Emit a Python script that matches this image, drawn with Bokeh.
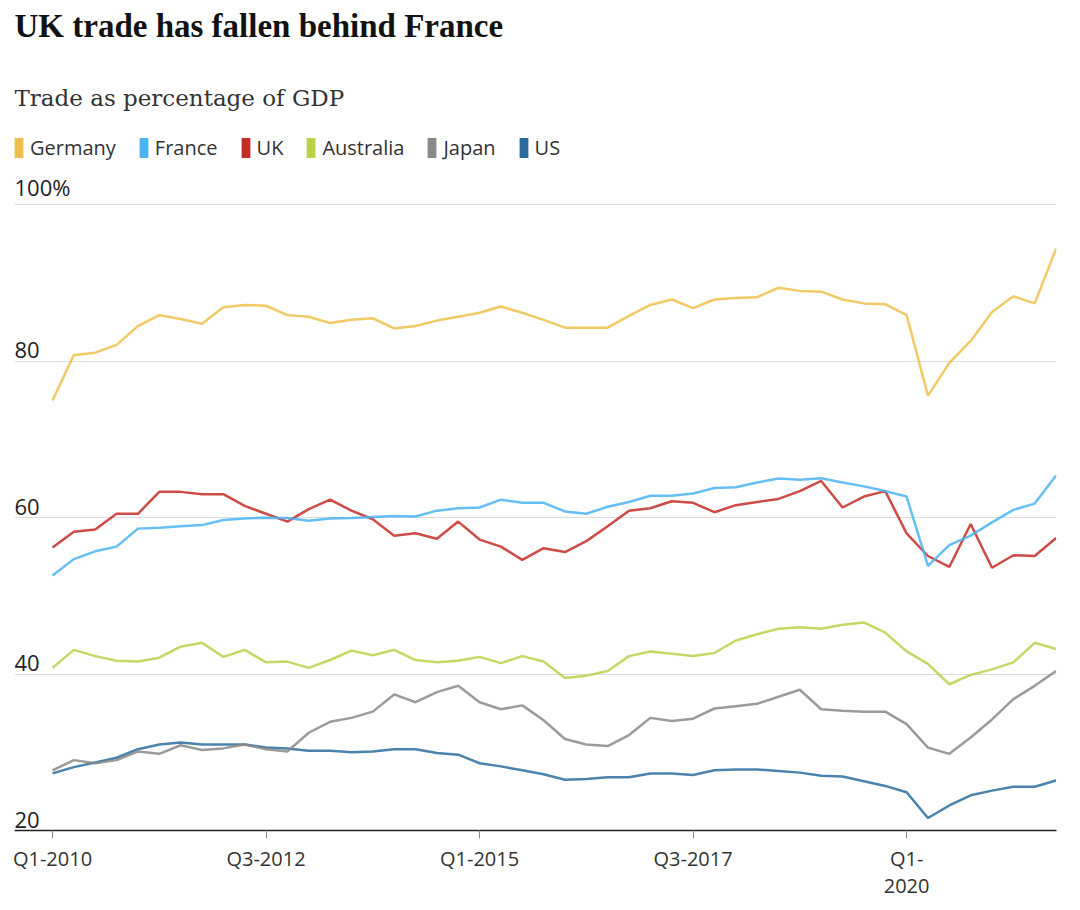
from bokeh.plotting import figure
from bokeh.models import Range1d, FixedTicker, Label, Legend, LegendItem
from bokeh.core.properties import value
from bokeh.embed import file_html
from bokeh.resources import INLINE

# ---------------- data ----------------
years = list(range(2010, 2022))
quarters = [f"Q{q}-{y}" for y in years for q in (1, 2, 3, 4)]

germany = [75.0, 80.8, 81.1, 82.1, 84.5, 85.9, 85.4, 84.8, 86.9, 87.2,
           87.1, 85.9, 85.7, 84.9, 85.3, 85.5, 84.2, 84.5, 85.2, 85.7,
           86.2, 87.0, 86.2, 85.3, 84.3, 84.3, 84.3, 85.8, 87.2, 87.9,
           86.8, 87.9, 88.1, 88.2, 89.4, 89.0, 88.9, 87.9, 87.4, 87.3,
           85.9, 75.6, 79.8, 82.6, 86.3, 88.3, 87.4, 94.4]
france = [52.6, 54.7, 55.7, 56.3, 58.6, 58.7, 58.9, 59.05, 59.7, 59.9,
          60.0, 59.95, 59.6, 59.9, 59.95, 60.1, 60.2, 60.15, 60.9, 61.2,
          61.3, 62.3, 61.9, 61.9, 60.8, 60.5, 61.4, 62.0, 62.8, 62.8,
          63.1, 63.8, 63.9, 64.5, 65.0, 64.85, 65.05, 64.5, 64.0, 63.4,
          62.7, 53.85, 56.5, 57.7, 59.4, 61.0, 61.8, 65.4]
uk = [56.2, 58.2, 58.5, 60.5, 60.5, 63.3, 63.3, 63.0, 63.0, 61.5,
      60.5, 59.5, 61.1, 62.3, 60.9, 59.8, 57.7, 58.0, 57.3, 59.5,
      57.2, 56.3, 54.6, 56.1, 55.6, 57.0, 58.9, 60.9, 61.2, 62.1,
      61.9, 60.7, 61.6, 62.0, 62.4, 63.4, 64.7, 61.3, 62.7, 63.4,
      58.0, 55.1, 53.7, 59.2, 53.6, 55.2, 55.1, 57.4]
australia = [40.8, 43.1, 42.3, 41.7, 41.6, 42.1, 43.5, 44.0, 42.2, 43.1,
             41.5, 41.6, 40.8, 41.8, 43.0, 42.4, 43.1, 41.8, 41.5, 41.7,
             42.2, 41.4, 42.3, 41.6, 39.5, 39.8, 40.4, 42.3, 42.9, 42.6,
             42.3, 42.7, 44.3, 45.1, 45.8, 46.0, 45.8, 46.3, 46.6, 45.3,
             42.9, 41.3, 38.7, 39.9, 40.6, 41.5, 44.0, 43.2]
japan = [27.7, 29.0, 28.6, 29.0, 30.1, 29.8, 30.9, 30.3, 30.5, 31.0,
         30.4, 30.1, 32.5, 33.9, 34.4, 35.2, 37.4, 36.4, 37.7, 38.5,
         36.4, 35.5, 36.0, 34.1, 31.7, 31.0, 30.8, 32.2, 34.4, 34.0,
         34.3, 35.6, 35.9, 36.2, 37.1, 38.0, 35.5, 35.3, 35.2, 35.2,
         33.6, 30.6, 29.8, 31.9, 34.2, 36.8, 38.5, 40.4]
us = [27.3, 28.1, 28.7, 29.3, 30.4, 31.0, 31.25, 31.0, 31.0, 31.0,
      30.6, 30.5, 30.2, 30.2, 30.0, 30.1, 30.4, 30.4, 29.9, 29.7,
      28.6, 28.2, 27.7, 27.2, 26.5, 26.6, 26.8, 26.8, 27.3, 27.3,
      27.1, 27.7, 27.8, 27.8, 27.6, 27.4, 27.0, 26.9, 26.3, 25.7,
      24.9, 21.6, 23.2, 24.5, 25.1, 25.6, 25.6, 26.4]

series_names = ["Germany", "France", "UK", "Australia", "Japan", "US"]
series_values = [germany, france, uk, australia, japan, us]
series_colors = ["#f0bf4c", "#4bb4f2", "#c52d27", "#b8d24a", "#8a8a8a", "#2c6d9e"]

x_tick_positions = [0, 10, 20, 30, 40]
x_tick_labels = ["Q1-2010", "Q3-2012", "Q1-2015", "Q3-2017", "Q1-\n2020"]
y_ticks = [20, 40, 60, 80, 100]
y_tick_labels = ["20", "40", "60", "80", "100%"]

title_text = "UK trade has fallen behind France"
subtitle_text = "Trade as percentage of GDP"

# ---------------- figure ----------------
x = list(range(len(quarters)))
x_start, x_end = -1.78, 47.02
# the frame spans the full height above the axis so the header texts
# (placed in screen units) are not clipped; gridlines only at the ticks
y_start, y_end = 20, 126.13

p = figure(width=1080, height=910, output_backend="svg", toolbar_location=None,
           title=None,
           x_range=Range1d(x_start, x_end), y_range=Range1d(y_start, y_end),
           min_border_left=14, min_border_right=24,
           min_border_top=0, min_border_bottom=80)
p.outline_line_color = None
p.background_fill_color = "white"
p.border_fill_color = "white"

p.xgrid.visible = False
p.ygrid.ticker = FixedTicker(ticks=y_ticks[1:])
p.ygrid.grid_line_color = "#dcdcdc"
p.ygrid.grid_line_width = 1
p.yaxis.visible = False

xa = p.xaxis[0]
xa.ticker = FixedTicker(ticks=x_tick_positions)
xa.major_label_overrides = dict(zip(x_tick_positions, x_tick_labels))
xa.axis_line_color = "#222222"
xa.axis_line_width = 1.5
xa.major_tick_line_color = "#888888"
xa.major_tick_out = 8
xa.major_tick_in = 0
xa.minor_tick_line_color = None
xa.major_label_text_font = "Open Sans"
xa.major_label_text_font_size = "20px"
xa.major_label_text_color = "#333333"
xa.major_label_standoff = 6
xa.major_label_text_line_height = 1.0

# y tick labels sitting above their gridlines
p.text(x=[x_start] * len(y_ticks), y=y_ticks, text=y_tick_labels,
       text_font=value("Open Sans"), text_font_size="22px",
       text_color="#222222", text_align="left", text_baseline="bottom",
       y_offset=-3)

# lines
for name, vals, col in reversed(list(zip(series_names, series_values, series_colors))):
    p.line(x, vals, line_color=col, line_width=2.5, line_alpha=0.85)

# legend swatches (NaN quads: nothing drawn in the plot, only the key)
nan = float("nan")
items = []
for name, col in zip(series_names, series_colors):
    r = p.quad(left=[nan], right=[nan], top=[nan], bottom=[nan],
               fill_color=col, line_color=None)
    items.append(LegendItem(label=name, renderers=[r]))
legend = Legend(items=items, location=(-1, 669), orientation="horizontal",
                glyph_width=11, glyph_height=25, label_standoff=6, spacing=22,
                padding=0, margin=0, border_line_color=None,
                background_fill_alpha=0,
                label_text_font="Open Sans", label_text_font_size="20px",
                label_text_color="#333333")
p.add_layout(legend)

# title & subtitle
p.add_layout(Label(x=0, y=805, x_units="screen", y_units="screen",
                   text=title_text, text_font="Liberation Serif",
                   text_font_size="33px", text_font_style="bold",
                   text_color="#121212", text_baseline="alphabetic"))
p.add_layout(Label(x=0, y=733, x_units="screen", y_units="screen",
                   text=subtitle_text, text_font="DejaVu Serif",
                   text_font_size="23px", text_color="#333333",
                   text_baseline="alphabetic"))

open("out.html", "w").write(file_html(p, INLINE))
